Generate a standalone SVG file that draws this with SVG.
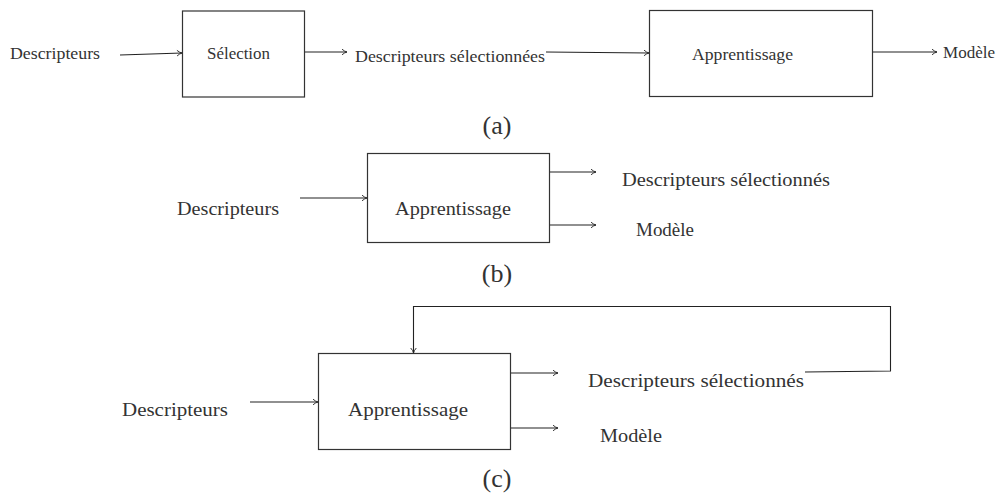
<svg xmlns="http://www.w3.org/2000/svg" width="999" height="495" viewBox="0 0 999 495">
  <defs>
    <marker id="arr" viewBox="0 0 8 8" refX="7" refY="4" markerWidth="8" markerHeight="8" markerUnits="userSpaceOnUse" orient="auto">
      <path d="M2,1.2 Q4.5,3.4 7,4 Q4.5,4.6 2,6.8" fill="none" stroke="#222" stroke-width="0.9"/>
    </marker>
  </defs>
  <style>
    .box { fill: #fff; stroke: #333; stroke-width: 1.2; }
    .wire { fill: none; stroke: #222; stroke-width: 1.1; }
    .arrow { marker-end: url(#arr); }
    text { font-family: "Liberation Serif", "Times New Roman", serif; fill: #333; }
    .s16 { font-size: 16px; }
    .s18 { font-size: 18.5px; }
    .s19 { font-size: 19px; }
    .cap { font-size: 26px; text-anchor: middle; }
  </style>
  <rect width="999" height="495" fill="#fff"/>

  <!-- (a) two-stage pipeline -->
  <g id="a-input"><text class="s16" x="10" y="59" textLength="90" lengthAdjust="spacingAndGlyphs">Descripteurs</text></g>
  <g id="a-selection">
    <rect class="box" x="182.5" y="11" width="122" height="86"/>
    <text class="s16" x="207" y="59" textLength="63" lengthAdjust="spacingAndGlyphs">Sélection</text>
  </g>
  <g id="a-selected"><text class="s16" x="355" y="62" textLength="190" lengthAdjust="spacingAndGlyphs">Descripteurs sélectionnées</text></g>
  <g id="a-learning">
    <rect class="box" x="649.5" y="10.5" width="223" height="86"/>
    <text class="s16" x="692" y="60" textLength="101" lengthAdjust="spacingAndGlyphs">Apprentissage</text>
  </g>
  <g id="a-model"><text class="s16" x="943" y="58" textLength="52" lengthAdjust="spacingAndGlyphs">Modèle</text></g>
  <text class="cap" x="497" y="134">(a)</text>

  <!-- (b) embedded selection -->
  <g id="b-input"><text class="s18" x="177" y="215" textLength="102" lengthAdjust="spacingAndGlyphs">Descripteurs</text></g>
  <g id="b-learning">
    <rect class="box" x="367.5" y="153.5" width="182" height="89"/>
    <text class="s18" x="395" y="215" textLength="116" lengthAdjust="spacingAndGlyphs">Apprentissage</text>
  </g>
  <g id="b-selected"><text class="s18" x="622" y="186" textLength="208" lengthAdjust="spacingAndGlyphs">Descripteurs sélectionnés</text></g>
  <g id="b-model"><text class="s18" x="636" y="236" textLength="58" lengthAdjust="spacingAndGlyphs">Modèle</text></g>
  <text class="cap" x="497" y="282">(b)</text>

  <!-- (c) iterative selection with feedback -->
  <g id="c-input"><text class="s19" x="122" y="416" textLength="106" lengthAdjust="spacingAndGlyphs">Descripteurs</text></g>
  <g id="c-learning">
    <rect class="box" x="318.5" y="353.5" width="192" height="96"/>
    <text class="s19" x="348" y="416" textLength="120" lengthAdjust="spacingAndGlyphs">Apprentissage</text>
  </g>
  <g id="c-selected"><text class="s19" x="588" y="387" textLength="216" lengthAdjust="spacingAndGlyphs">Descripteurs sélectionnés</text></g>
  <g id="c-model"><text class="s19" x="600" y="442" textLength="62" lengthAdjust="spacingAndGlyphs">Modèle</text></g>
  <text class="cap" x="497" y="487">(c)</text>

  <g id="connectors">
    <!-- (a) -->
    <path class="wire arrow" d="M120,55 L182,53"/>
    <path class="wire arrow" d="M305,52 L347,52"/>
    <path class="wire arrow" d="M546,52 L649,53"/>
    <path class="wire arrow" d="M873,52 L937,52"/>
    <!-- (b) -->
    <path class="wire arrow" d="M300,198 L367,198"/>
    <path class="wire arrow" d="M550,172 L596,172"/>
    <path class="wire arrow" d="M550,225 L596,225"/>
    <!-- (c) -->
    <path class="wire arrow" d="M250,402 L318,402"/>
    <path class="wire arrow" d="M511,373 L558,373"/>
    <path class="wire arrow" d="M511,428 L558,428"/>
    <path class="wire arrow" d="M805,372 L890.5,371 L890.5,306.5 L413.5,306.5 L413.5,353"/>
  </g>
</svg>
